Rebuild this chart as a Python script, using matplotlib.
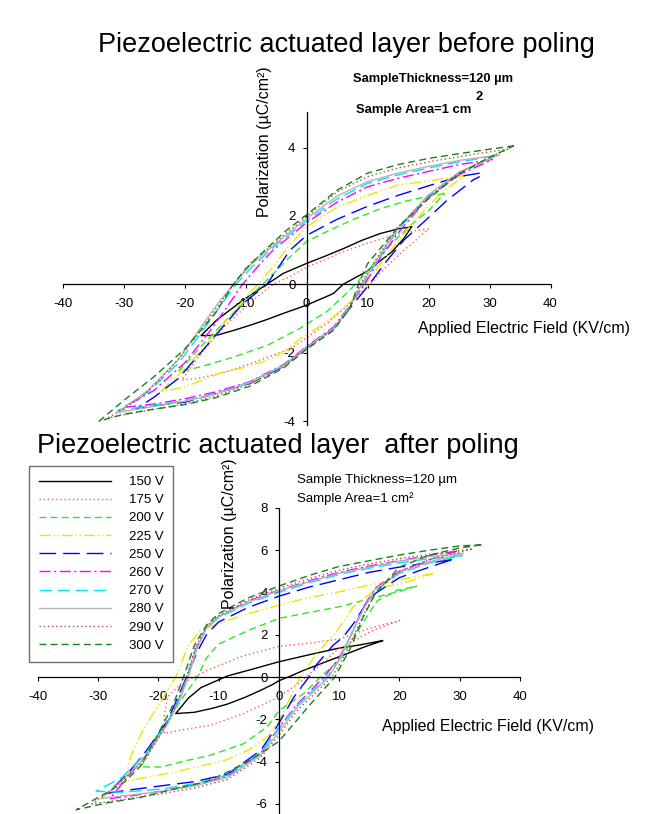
import matplotlib
matplotlib.use("Agg")
import matplotlib.pyplot as plt

plt.rcParams['font.family'] = ['Liberation Sans', 'DejaVu Sans']
plt.rcParams['axes.unicode_minus'] = False

voltages = [150, 175, 200, 225, 250, 260, 270, 280, 290, 300]
labels = [f"{v} V" for v in voltages]
x_ticks = [-40, -30, -20, -10, 0, 10, 20, 30, 40]
y_ticks_pre = [-4, -2, 0, 2, 4]
y_ticks_post = [-6, -4, -2, 0, 2, 4, 6, 8]

# (E in KV/cm, P in uC/cm2), upper branch then lower branch
# --- before poling ---
pre_150 = [(17.2, 1.68), (15, 1.62), (12, 1.48), (9, 1.28), (6, 1.04), (3, 0.82), (0, 0.61), (-3.8, 0.32),
           (-6.5, 0), (-10.4, -0.46), (-14.7, -1.04), (-17.3, -1.5),
           (-14.7, -1.49), (-12, -1.35), (-9.3, -1.2), (-6.5, -1.03), (-3.8, -0.85), (0, -0.61), (4.4, -0.27),
           (6, 0), (9.8, 0.37), (14, 0.95), (16, 1.35), (17.2, 1.68)]
pre_175 = [(20, 1.62), (17, 1.55), (14, 1.42), (10, 1.2), (6, 0.95), (3, 0.72), (0, 0.5), (-3, 0.2),
           (-5.5, 0), (-9, -0.5), (-13, -1.15), (-17, -1.95), (-20.5, -2.8),
           (-17.5, -2.74), (-13, -2.55), (-9.3, -2.32), (-5.5, -2.08), (-2.2, -1.84), (0.5, -1.5), (3.3, -1.15),
           (7.1, -0.56), (10.4, 0), (13, 0.5), (16, 1.0), (18, 1.3), (20, 1.62)]
pre_200 = [(22.6, 2.65), (20, 2.58), (16, 2.42), (12, 2.2), (8, 1.92), (4, 1.6), (0, 1.25), (-3, 0.75),
           (-7.2, 0), (-10.4, -0.55), (-14, -1.2), (-17.5, -1.85), (-21, -2.55),
           (-17.5, -2.42), (-12, -2.13), (-6.5, -1.79), (-1.1, -1.29), (3.3, -0.8), (6.6, -0.26), (8, 0),
           (11, 0.6), (14, 1.2), (17, 1.72), (20, 2.15), (22.6, 2.65)]
pre_225 = [(26, 3.18), (20, 3.02), (15, 2.9), (10, 2.6), (5, 2.25), (0, 1.68), (-3, 1.1), (-6, 0.4),
           (-8, 0), (-11, -0.6), (-15, -1.45), (-19, -2.3), (-24, -3.15),
           (-20, -3.0), (-14.2, -2.6), (-10, -2.42), (-6.5, -2.23), (-3, -1.9), (-1.1, -1.59), (2, -1.25),
           (4.4, -0.95), (8.75, -0.26), (9.6, 0), (13, 0.8), (17, 1.7), (20, 2.3), (23, 2.8), (26, 3.18)]
pre_250 = [(28.4, 3.25), (25, 3.15), (20, 2.88), (15, 2.6), (10, 2.28), (5, 1.9), (0, 1.43), (-2.7, 1.0),
           (-6.5, 0), (-10.4, -0.56), (-14, -1.3), (-17.5, -2.03), (-21, -2.75), (-25, -3.3), (-28, -3.65),
           (-25, -3.55), (-20, -3.45), (-15, -3.2), (-9.3, -2.9), (-3.8, -2.4), (0, -1.84), (4.4, -1.3),
           (7.1, -0.7), (10.3, 0), (13, 0.65), (16, 1.3), (19.7, 1.9), (23, 2.45), (27.3, 3.05), (28.4, 3.15)]
pre_260 = [(30.5, 3.65), (25, 3.5), (20, 3.3), (15, 3.1), (10, 2.85), (5, 2.4), (0, 1.8), (-5.5, 1.0),
           (-7.6, 0.6), (-10.5, 0), (-13, -0.65), (-16, -1.4), (-20, -2.3), (-25, -3.1), (-30, -3.6),
           (-25, -3.5), (-20, -3.35), (-15, -3.15), (-9.3, -2.85), (-3.8, -2.35), (0, -1.82), (4.4, -1.25),
           (7.1, -0.62), (9.5, 0), (12, 0.75), (15, 1.5), (20, 2.55), (25, 3.2), (30.5, 3.65)]
pre_270 = [(31, 3.75), (25, 3.58), (20, 3.4), (15, 3.2), (10, 2.95), (5, 2.5), (0, 1.85), (-5, 1.15),
           (-9, 0.5), (-11.6, 0), (-14, -0.6), (-17, -1.35), (-21, -2.3), (-26, -3.15), (-31, -3.7),
           (-26, -3.55), (-20, -3.4), (-15, -3.2), (-9.3, -2.86), (-3.8, -2.37), (0, -1.84), (4.4, -1.28),
           (7.1, -0.64), (9.2, 0), (12, 0.8), (15, 1.6), (20, 2.6), (25, 3.25), (31, 3.75)]
pre_280 = [(31.5, 3.78), (25, 3.62), (20, 3.45), (15, 3.25), (10, 3.0), (5, 2.58), (0, 1.92), (-5, 1.2),
           (-9, 0.6), (-12, 0), (-14.5, -0.55), (-17.5, -1.3), (-21, -2.2), (-26, -3.1), (-31, -3.75),
           (-26, -3.6), (-20, -3.42), (-15, -3.22), (-9.3, -2.88), (-3.8, -2.38), (0, -1.85), (4.4, -1.3),
           (7.1, -0.66), (9, 0), (12, 0.85), (15, 1.65), (20, 2.62), (25, 3.28), (31.5, 3.78)]
pre_290 = [(33, 3.95), (28, 3.82), (20, 3.58), (15, 3.4), (10, 3.15), (5, 2.7), (0, 1.98), (-5, 1.25),
           (-9, 0.65), (-12, 0), (-15, -0.75), (-18, -1.5), (-22, -2.4), (-27, -3.3), (-32.5, -3.9),
           (-27, -3.72), (-20, -3.5), (-15, -3.28), (-9.3, -2.92), (-3.8, -2.42), (0, -1.88), (4.4, -1.32),
           (7.1, -0.68), (8.8, 0), (12, 0.9), (15, 1.68), (20, 2.55), (25, 3.25), (30, 3.72), (33, 3.95)]
pre_300 = [(34, 4.05), (30, 3.95), (25, 3.82), (20, 3.68), (15, 3.5), (10, 3.25), (5, 2.75), (0, 2.03),
           (-3.5, 1.55), (-7.1, 0.95), (-10, 0.45), (-12, 0), (-15, -0.85), (-20, -1.9), (-25, -2.7),
           (-30, -3.4), (-34, -4.0),
           (-30, -3.8), (-25, -3.65), (-20, -3.52), (-15, -3.32), (-9.3, -2.98), (-3.8, -2.45), (0, -1.9),
           (4.4, -1.35), (7.1, -0.7), (8.5, 0), (10, 0.6), (15, 1.67), (20, 2.5), (25, 3.23), (30, 3.71), (34, 4.05)]

# --- after poling ---
post_150 = [(17.2, 1.72), (13.5, 1.52), (9.7, 1.35), (5, 1.05), (0, 0.72), (-4, 0.4), (-8.5, 0.05),
            (-10.5, -0.2), (-12.9, -0.5), (-15, -1.0), (-16.2, -1.42), (-17.1, -1.73),
            (-14, -1.67), (-11, -1.48), (-8.5, -1.28), (-5.5, -0.95), (-3, -0.63), (-1, -0.35), (0, -0.18),
            (2, 0.05), (4, 0.3), (6.9, 0.62), (9, 0.85), (11.3, 1.1), (14, 1.4), (17.2, 1.72)]
post_175 = [(20.1, 2.68), (15, 2.3), (10, 1.8), (5, 1.6), (0, 1.45), (-6.3, 0.96), (-11.8, 0.32),
            (-16.2, -0.31), (-18.4, -0.93), (-19, -1.8), (-19, -2.67),
            (-16, -2.5), (-11.3, -2.28), (-5.8, -1.73), (0, -0.95), (3, -0.35), (6, 0.35), (9.7, 1.3),
            (15.2, 2.15), (20.1, 2.68)]
post_200 = [(22.9, 4.3), (20, 4.05), (15, 3.7), (10, 3.32), (5, 3.05), (0, 2.77), (-5, 2.21), (-10, 1.55),
            (-12, 0.9), (-13.5, 0), (-16, -1.0), (-18, -1.9), (-20, -2.8), (-22.9, -4.25),
            (-19.5, -4.26), (-16, -4.0), (-11.3, -3.7), (-8.5, -3.42), (-5.8, -3.15), (-1.9, -2.35), (0, -1.6),
            (4.1, -0.79), (6.9, 0), (10.2, 0.85), (12.9, 2.1), (16.3, 3.6), (19.6, 4.1), (22.9, 4.3)]
post_225 = [(25.6, 4.9), (20, 4.6), (15, 4.35), (10, 4.03), (5, 3.75), (0, 3.4), (-5, 3.0), (-10, 2.53),
            (-13, 2.2), (-15, 1.5), (-17.1, 0), (-20, -1.35), (-22.5, -2.5), (-24.5, -3.7), (-25.6, -4.95),
            (-22, -4.75), (-17.4, -4.5), (-12, -4.15), (-8.5, -3.9), (-5, -3.45), (-1.9, -2.84), (0, -2.1),
            (2.5, -0.63), (3.5, 0), (6.3, 1.1), (9.7, 2.2), (12.4, 3.33), (16.3, 4.2), (20.7, 4.44), (25.6, 4.9)]
post_250 = [(28.7, 5.55), (25, 5.4), (20, 5.2), (15, 4.95), (10, 4.6), (5, 4.25), (0, 3.82), (-5, 3.3),
            (-10, 2.6), (-12, 2.0), (-13.5, 1.2), (-15.3, 0), (-16.8, -1.0), (-18.5, -2.1), (-22, -3.5),
            (-25, -4.55), (-28.4, -5.5),
            (-25, -5.35), (-19.5, -5.15), (-14, -4.95), (-8.5, -4.6), (-3, -3.47), (0, -2.2), (2.5, -0.95),
            (5, 0), (6.3, 0.6), (9, 1.5), (10.7, 1.9), (12.4, 2.53), (15.2, 3.8), (20, 4.7), (25, 5.2), (28.7, 5.55)]
post_260 = [(29.5, 5.95), (25, 5.75), (20, 5.5), (15, 5.25), (10, 4.95), (5, 4.55), (0, 4.1), (-5, 3.6),
            (-10, 2.85), (-12, 2.35), (-13.8, 1.3), (-15.2, 0), (-16.6, -1.1), (-18.3, -2.1), (-22, -3.7),
            (-25, -4.7), (-28, -5.75),
            (-25, -5.65), (-19.5, -5.4), (-14, -5.1), (-8.5, -4.7), (-3, -3.6), (0, -2.4), (3, -1.3),
            (7.5, 0), (10, 0.9), (12, 2.0), (14, 3.3), (16, 4.2), (20, 5.0), (25, 5.55), (29.5, 5.95)]
post_270 = [(30.5, 5.75), (25, 5.6), (20, 5.4), (15, 5.15), (10, 4.85), (5, 4.45), (0, 4.0), (-5, 3.5),
            (-10, 2.8), (-12, 2.3), (-13.8, 1.25), (-15.2, 0), (-16.6, -1.05), (-18.3, -2.05), (-22, -3.6),
            (-26, -4.75), (-30.3, -5.4),
            (-26, -5.45), (-19.5, -5.3), (-14, -5.05), (-8.5, -4.65), (-3, -3.55), (0, -2.45), (3, -1.35),
            (8, 0), (10, 0.8), (12, 2.0), (14, 3.2), (16, 4.1), (20, 4.9), (25, 5.4), (30.5, 5.75)]
post_280 = [(30.5, 5.85), (25, 5.7), (20, 5.48), (15, 5.2), (10, 4.9), (5, 4.5), (0, 4.08), (-5, 3.55),
            (-10, 2.85), (-12, 2.35), (-13.6, 1.3), (-15, 0), (-16.5, -1.15), (-18.3, -2.15), (-22, -3.75),
            (-26, -4.9), (-29.5, -5.75),
            (-26, -5.62), (-19.5, -5.42), (-14, -5.15), (-8.5, -4.75), (-3, -3.7), (0, -2.6), (3, -1.45),
            (8.3, 0), (10, 0.8), (12, 2.0), (14, 3.2), (16, 4.15), (20, 4.95), (25, 5.45), (30.5, 5.85)]
post_290 = [(32, 6.05), (25, 5.8), (20, 5.6), (15, 5.35), (10, 5.05), (5, 4.65), (0, 4.2), (-5, 3.65),
            (-10, 2.9), (-12, 2.4), (-13.9, 1.35), (-15.3, 0), (-16.8, -1.15), (-18.5, -2.2), (-22, -3.85),
            (-27, -5.2), (-31, -6.0),
            (-27, -5.85), (-20, -5.55), (-14, -5.25), (-8.5, -4.85), (-3, -3.8), (0, -2.75), (3, -1.6),
            (8.8, 0), (10.5, 0.8), (12.5, 2.0), (14.5, 3.2), (16.5, 4.15), (20, 5.0), (25, 5.55), (32, 6.05)]
post_300 = [(33.6, 6.25), (30, 6.2), (25, 6.0), (20, 5.77), (15, 5.5), (10, 5.23), (5, 4.8), (0, 4.3),
            (-5, 3.75), (-10, 3.0), (-12, 2.45), (-14, 1.5), (-15.8, 0), (-17.5, -1.3), (-20, -2.68),
            (-22.9, -4.2), (-25.5, -4.95), (-28.4, -5.45), (-33.6, -6.28),
            (-28.4, -5.95), (-23, -5.7), (-17.4, -5.3), (-12, -4.95), (-8.5, -4.5), (-4, -3.8), (0, -3.05),
            (5.2, -1.3), (9.3, 0), (12, 1.43), (14, 2.84), (16, 3.95), (20, 5.2), (25, 5.77), (30, 6.1), (33.6, 6.25)]

pre_loops = [pre_150, pre_175, pre_200, pre_225, pre_250, pre_260, pre_270, pre_280, pre_290, pre_300]
post_loops = [post_150, post_175, post_200, post_225, post_250, post_260, post_270, post_280, post_290, post_300]

line_styles = [
    dict(color="black", linestyle="-"),
    dict(color="#ff5a5a", linestyle=(0, (1, 2))),
    dict(color="#2ee62e", linestyle=(0, (5, 3))),
    dict(color="#e8e800", linestyle=(0, (8, 2, 1, 2, 1, 2))),
    dict(color="#0000ff", linestyle=(0, (12, 5))),
    dict(color="#ff00ff", linestyle=(0, (8, 2.5, 1.5, 2.5))),
    dict(color="#00e5ee", linestyle=(0, (9, 4))),
    dict(color="#b4b4b4", linestyle="-"),
    dict(color="#b05050", linestyle=(0, (1, 2))),
    dict(color="#1a801a", linestyle=(0, (5, 3))),
]

W, H = 655, 814
fig = plt.figure(figsize=(W / 100, H / 100), dpi=100)


def px_axes(x0, x1, y_top, y_bot):
    return fig.add_axes([x0 / W, 1 - y_bot / H, (x1 - x0) / W, (y_bot - y_top) / H])


def setup(ax, ylim, yticks):
    ax.set_xlim(-40, 40)
    ax.set_ylim(*ylim)
    ax.patch.set_alpha(0)
    for side in ['top', 'right']:
        ax.spines[side].set_visible(False)
    ax.spines['left'].set_position(('data', 0))
    ax.spines['bottom'].set_position(('data', 0))
    ax.spines['bottom'].set_bounds(-40, 40)
    for side in ['left', 'bottom']:
        ax.spines[side].set_linewidth(0.9)
    ax.set_xticks(x_ticks)
    ax.set_yticks(yticks)
    ax.tick_params(direction='out', length=3, width=0.8, labelsize=9.5)
    ax.tick_params(axis='x', pad=7)
    ax.tick_params(axis='y', pad=5)


# top panel: before poling
ax1 = px_axes(62.6, 550.5, 284.3 - 5.05 * 34.2, 284.3 + 4.1 * 34.2)
setup(ax1, (-4.1, 5.05), y_ticks_pre)
for loop, st in zip(pre_loops, line_styles):
    e = [pt[0] for pt in loop]
    p = [pt[1] for pt in loop]
    ax1.plot(e, p, lw=1.0, clip_on=False, **st)

# bottom panel: after poling
ax2 = px_axes(37.6, 520, 677 - 8 * 21.14, 677 + 6.5 * 21.14)
setup(ax2, (-6.5, 8), y_ticks_post)
for loop, st, lab in zip(post_loops, line_styles, labels):
    e = [pt[0] for pt in loop]
    p = [pt[1] for pt in loop]
    ax2.plot(e, p, lw=1.0, clip_on=False, label=lab, **st)

leg = ax2.legend(loc='upper left', bbox_to_anchor=(29 / W, 1 - 466 / H), bbox_transform=fig.transFigure,
                 fontsize=9.5, handlelength=5.5, handletextpad=1.3, labelspacing=0.45,
                 borderpad=0.75, borderaxespad=0, fancybox=False, framealpha=1)
leg.get_frame().set_edgecolor('#707070')
leg.get_frame().set_linewidth(1.0)

# titles and labels
fig.text(98 / W, 1 - 52 / H, "Piezoelectric actuated layer before poling", fontsize=19.5, va='baseline')
fig.text(37 / W, 1 - 453 / H, "Piezoelectric actuated layer  after poling", fontsize=19.5, va='baseline')

fig.text(418 / W, 1 - 333 / H, "Applied Electric Field (KV/cm)", fontsize=11.5, va='baseline')
fig.text(382 / W, 1 - 730.5 / H, "Applied Electric Field (KV/cm)", fontsize=11.5, va='baseline')

fig.text(265 / W, 1 - 142 / H, "Polarization (µC/cm²)", fontsize=11.5, rotation=90, ha='center', va='center')
fig.text(230 / W, 1 - 534 / H, "Polarization (µC/cm²)", fontsize=11.5, rotation=90, ha='center', va='center')

fig.text(353 / W, 1 - 79 / H, "SampleThickness=120 µm", fontsize=9.3, fontweight='bold', va='center')
fig.text(476 / W, 1 - 97 / H, "2", fontsize=9.3, fontweight='bold', va='center')
fig.text(356 / W, 1 - 110 / H, "Sample Area=1 cm", fontsize=9.4, fontweight='bold', va='center')

fig.text(297 / W, 1 - 480 / H, "Sample Thickness=120 µm", fontsize=9.5, va='center')
fig.text(297 / W, 1 - 499 / H, "Sample Area=1 cm²", fontsize=9.5, va='center')

fig.savefig("out.png", dpi=100)
